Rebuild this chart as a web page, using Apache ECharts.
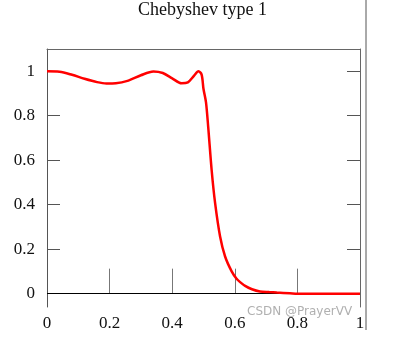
<!DOCTYPE html>
<html>
<head>
<meta charset="utf-8">
<script src="https://cdn.jsdelivr.net/npm/echarts@6/dist/echarts.min.js"></script>
<style>html,body{margin:0;padding:0;background:#fff;}#c{width:400px;height:343px;}</style>
</head>
<body>
<div id="c"></div>
<script>
var title = 'Chebyshev type 1';
var freq = [0, 0.04, 0.08, 0.12, 0.16, 0.19, 0.22, 0.26, 0.30, 0.34, 0.37, 0.40, 0.43, 0.45, 0.47, 0.484, 0.494, 0.50, 0.508, 0.515, 0.526, 0.537, 0.553, 0.569, 0.59, 0.605, 0.617, 0.633, 0.655, 0.68, 0.71, 0.734, 0.776, 0.8, 0.9, 1.0];
var gain = [1.0, 0.998, 0.984, 0.966, 0.951, 0.945, 0.946, 0.958, 0.982, 0.999, 0.992, 0.968, 0.946, 0.950, 0.980, 1.0, 0.985, 0.92, 0.86, 0.75, 0.556, 0.408, 0.257, 0.167, 0.10, 0.068, 0.052, 0.035, 0.02, 0.01, 0.007, 0.005, 0.002, 0.0, 0.0, 0.0];
var xTickLabels = [0, 0.2, 0.4, 0.6, 0.8, 1];
var xInnerTicks = [0.2, 0.4, 0.6, 0.8];
var yTickLabels = [0, 0.2, 0.4, 0.6, 0.8, 1];
var watermark = 'CSDN @PrayerVV';

var data = freq.map(function (f, i) { return [f, gain[i]]; });
var serif = '"Liberation Serif", "Times New Roman", serif';
var chart = echarts.init(document.getElementById('c'));
chart.setOption({
  animation: false,
  backgroundColor: '#fff',
  title: {
    text: title, left: 138, top: 1, padding: 0,
    textStyle: { fontFamily: serif, fontSize: 18, fontWeight: 'normal', color: '#111' }
  },
  grid: { left: 47, right: 40, top: 49, bottom: 36 },
  xAxis: [{
    type: 'value', min: 0, max: 1, interval: 0.2, position: 'bottom',
    axisLine: { show: false },
    axisTick: { show: true, inside: true, length: 25, customValues: xInnerTicks, lineStyle: { color: '#777' } },
    axisLabel: { customValues: xTickLabels, margin: 8, fontFamily: serif, fontSize: 17, color: '#111' },
    splitLine: { show: false }
  }, {
    type: 'value', min: 0, max: 1, position: 'top',
    axisLine: { show: true, onZero: false, lineStyle: { color: '#666' } },
    axisTick: { show: false }, axisLabel: { show: false }, splitLine: { show: false }
  }],
  yAxis: [{
    type: 'value', min: -0.06, max: 1.1, position: 'left',
    axisLine: { show: true, onZero: false, lineStyle: { color: '#555' } },
    axisTick: { show: true, inside: true, length: 13, customValues: yTickLabels, lineStyle: { color: '#555' } },
    axisLabel: { customValues: yTickLabels, margin: 12, fontFamily: serif, fontSize: 17, color: '#111' },
    splitLine: { show: false }
  }, {
    type: 'value', min: -0.06, max: 1.1, position: 'right',
    axisLine: { show: true, onZero: false, lineStyle: { color: '#666' } },
    axisTick: { show: true, inside: true, length: 13, customValues: yTickLabels, lineStyle: { color: '#555' } },
    axisLabel: { show: false }, splitLine: { show: false }
  }],
  series: [{
    type: 'line', data: data, xAxisIndex: 0, yAxisIndex: 0,
    smooth: 0.3, showSymbol: false, symbol: 'none',
    lineStyle: { color: '#ff0000', width: 2.5 },
    z: 3,
    markLine: {
      silent: true, symbol: 'none', label: { show: false },
      lineStyle: { color: '#000', width: 1, type: 'solid' },
      data: [{ yAxis: 0 }],
      z: 2
    }
  }],
  graphic: [{
    type: 'line', shape: { x1: 366, y1: 0, x2: 366, y2: 330 },
    style: { stroke: '#555', lineWidth: 1 }
  }, {
    type: 'text', left: 247, top: 306,
    style: { text: watermark, font: '12px "DejaVu Sans", sans-serif', fill: '#b0b0b0' },
    z: 100
  }]
});
</script>
</body>
</html>
